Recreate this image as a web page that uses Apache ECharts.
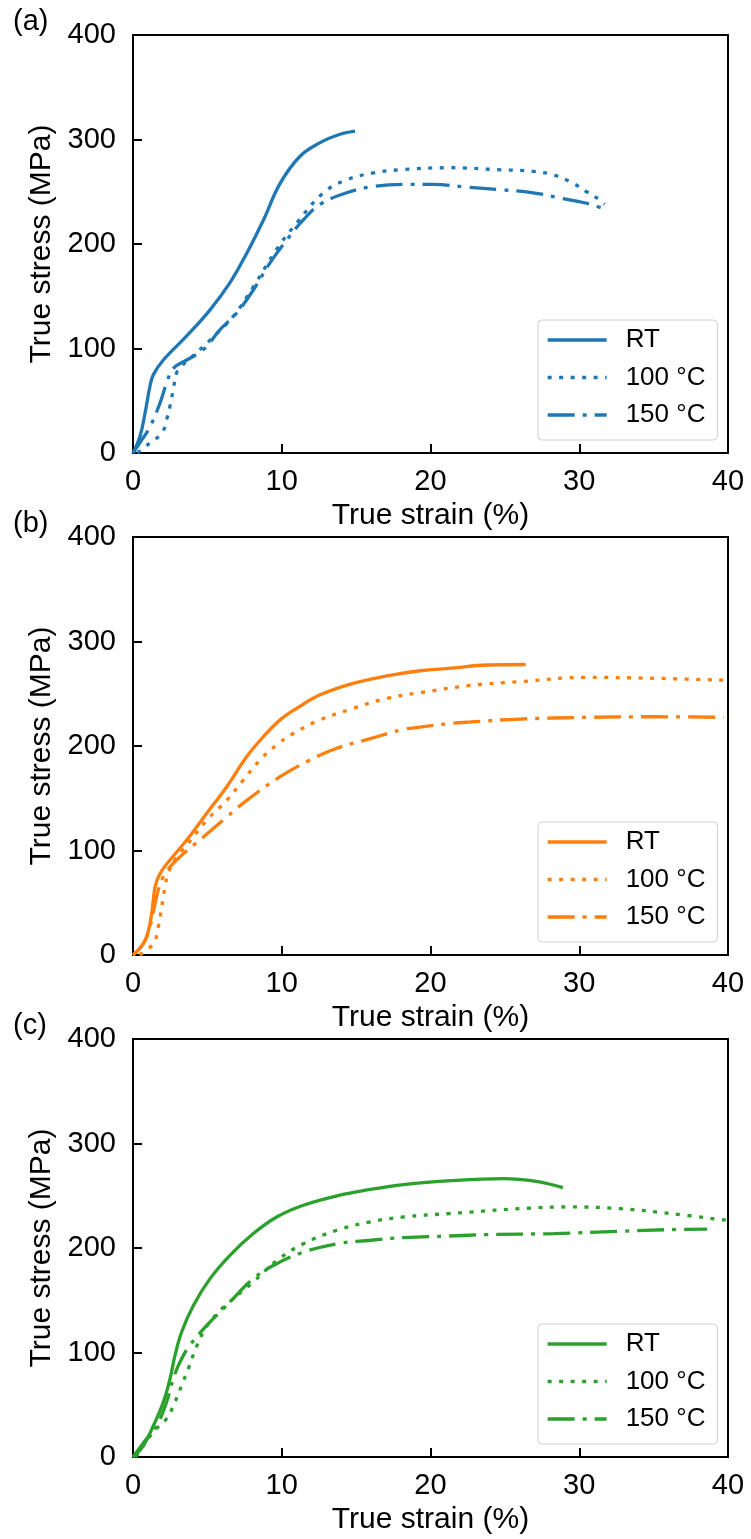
<!DOCTYPE html>
<html>
<head>
<meta charset="utf-8">
<script src="https://cdn.jsdelivr.net/npm/echarts@6/dist/echarts.min.js"></script>
<style>
  html, body { margin: 0; padding: 0; background: #fff; }
  #chart { width: 751px; height: 1539px; }
</style>
</head>
<body>
<div id="chart"></div>
<script>
// Axis ticks and labels
const strainTicks = [0, 10, 20, 30, 40];
const stressTicks = [0, 100, 200, 300, 400];
const panelLabels = ['(a)', '(b)', '(c)'];
const seriesLabels = ['RT', '100 °C', '150 °C'];
const panelColors = ['#1f77b4', '#ff7f0e', '#2ca02c'];

// Panel (a): true strain (%) / true stress (MPa)
const aRtStrain = [0, 0.47, 0.81, 1.14, 1.37, 2.04, 3.61, 5.18, 6.52, 7.64, 8.77, 9.89, 11.23, 12.58, 13.92, 14.93];
const aRtStress = [0, 16, 38, 64, 75, 89, 112, 137, 163, 191, 223, 258, 284, 297, 305, 308];
const a100Strain = [0.3, 0.81, 1.93, 2.26, 2.49, 2.71, 2.94, 3.27, 3.95, 5.18, 6.75, 8.09, 9.66, 11.0, 12.8, 14.37, 16.16, 17.96, 21.3, 24.7, 26.9, 28.3, 29.6, 30.5, 31.4, 31.7];
const a100Stress = [0, 6, 19, 32, 45, 61, 77, 83, 92, 108, 131, 159, 195, 220, 249, 261.5, 268, 271, 273, 271, 269.5, 266, 258, 250, 242, 238];
const a150Strain = [0, 0.47, 1.14, 1.82, 2.26, 2.71, 3.61, 4.73, 5.85, 6.97, 8.09, 9.21, 10.34, 11.45, 12.58, 14.37, 16.16, 18.2, 20.2, 22.4, 24.7, 26.9, 28.7, 30.5, 31.6];
const a150Stress = [0, 10, 25, 48, 67, 81, 89, 99, 118, 134, 156, 182, 204, 223, 238, 249, 255, 257, 257, 254.5, 252, 249, 244, 239, 234];

// Panel (b)
const bRtStrain = [0, 0.47, 0.92, 1.26, 1.48, 1.82, 2.49, 3.61, 4.96, 6.3, 7.65, 8.77, 9.89, 11.0, 12.58, 14.8, 17.06, 19.3, 21.4, 23.8, 26.4];
const bRtStress = [0, 6.4, 17.5, 40, 65, 78, 91, 110, 135.6, 161, 190, 209, 225, 236, 249, 260, 267, 272, 274.5, 277.5, 278];
const b100Strain = [0.45, 1.37, 1.7, 1.93, 2.15, 2.37, 2.82, 3.61, 4.96, 6.3, 7.42, 8.54, 9.66, 10.78, 12.58, 14.8, 17.06, 19.3, 22.7, 26.0, 30.5, 35, 39.7];
const b100Stress = [0, 11, 27, 46, 65, 78, 91, 105, 129, 148, 167.5, 186.6, 201, 212, 225, 236, 245.6, 251, 258, 261.5, 265.7, 264.8, 263];
const b150Strain = [0, 0.7, 1.14, 1.59, 2.04, 2.94, 4.73, 6.3, 7.65, 9.89, 11.68, 13.7, 15.94, 18.2, 19.3, 21.3, 22.7, 26.0, 30.5, 35, 39.7];
const b150Stress = [0, 11, 27, 56, 75, 91, 113, 132, 148, 170.6, 185, 197.8, 207, 216, 218, 221.5, 223, 225.8, 227.4, 228, 227.4];

// Panel (c)
const cRtStrain = [0, 0.7, 1.37, 2.04, 2.49, 2.82, 3.27, 4.06, 5.18, 6.52, 8.09, 9.66, 11.45, 13.7, 15.96, 18.18, 21.4, 24.9, 27.1, 28.9];
const cRtStress = [0, 11, 30, 52.6, 75, 97, 119.6, 145, 170.7, 193, 213.8, 229.7, 240.9, 249.8, 256, 260.7, 264.5, 266.4, 263.8, 257.8];
const c100Strain = [0.2, 1.37, 2.26, 2.82, 3.27, 3.72, 4.17, 4.73, 5.63, 6.75, 8.09, 9.66, 11.45, 13.7, 15.96, 18.18, 21.3, 22.7, 26.0, 29.4, 32.75, 36.1, 39.9];
const c100Stress = [0, 24, 36.7, 52.6, 68.6, 84.6, 102, 119.6, 137, 151.6, 167.5, 188, 204, 217, 225, 229.7, 233, 234.4, 237.7, 239.3, 237.7, 233, 226.5];
const c150Strain = [0, 0.92, 1.59, 2.26, 2.71, 3.16, 3.83, 4.96, 6.3, 8.09, 9.66, 11.45, 13.7, 15.96, 18.18, 21.3, 23.8, 28.3, 32.75, 36.1, 38.6];
const c150Stress = [0, 17.6, 30, 52.6, 75, 91, 107, 126, 145, 170.7, 185, 196, 204, 207.4, 210, 211.5, 212.8, 213.8, 216, 217.6, 218];

const panels = [
  [[aRtStrain, aRtStress], [a100Strain, a100Stress], [a150Strain, a150Stress]],
  [[bRtStrain, bRtStress], [b100Strain, b100Stress], [b150Strain, b150Stress]],
  [[cRtStrain, cRtStress], [c100Strain, c100Stress], [c150Strain, c150Stress]]
];

const FONT = "'Liberation Sans', Arial, sans-serif";
const lineWidth = 3.3;
const dashes = ['solid', [4, 7.5], [27, 8, 4, 8]];
const gridTops = [35, 537, 1039];
const gridLeft = 133, gridWidth = 595, gridHeight = 418;

const key = (i, label) => i + '|' + label;
const zip = (xs, ys) => xs.map((x, k) => [x, ys[k]]);

const option = {
  animation: false,
  backgroundColor: '#fff',
  textStyle: { fontFamily: FONT },
  title: panelLabels.map((t, i) => ({
    text: t,
    left: 13,
    top: gridTops[i] - 28,
    padding: 0,
    textStyle: { fontSize: 29, fontWeight: 'normal', color: '#000', fontFamily: FONT }
  })),
  grid: gridTops.map(top => ({
    left: gridLeft, top: top, width: gridWidth, height: gridHeight,
    show: true, borderColor: '#000', borderWidth: 2, backgroundColor: 'transparent',
    containLabel: false
  })),
  xAxis: gridTops.map((_, i) => ({
    gridIndex: i, type: 'value',
    min: strainTicks[0], max: strainTicks[strainTicks.length - 1], interval: strainTicks[1] - strainTicks[0],
    name: 'True strain (%)', nameLocation: 'middle', nameGap: 48,
    nameTextStyle: { fontSize: 30, color: '#000', fontFamily: FONT },
    axisLine: { show: true, onZero: false, lineStyle: { color: '#000', width: 2 } },
    axisTick: { show: true, inside: true, length: 9, lineStyle: { color: '#000', width: 2 } },
    axisLabel: { fontSize: 29, color: '#000', margin: 14, fontFamily: FONT },
    splitLine: { show: false }
  })),
  yAxis: gridTops.map((_, i) => ({
    gridIndex: i, type: 'value',
    min: stressTicks[0], max: stressTicks[stressTicks.length - 1], interval: stressTicks[1] - stressTicks[0],
    name: 'True stress (MPa)', nameLocation: 'middle', nameGap: 64,
    nameTextStyle: { fontSize: 30, color: '#000', fontFamily: FONT },
    axisLine: { show: true, onZero: false, lineStyle: { color: '#000', width: 2 } },
    axisTick: { show: true, inside: true, length: 9, lineStyle: { color: '#000', width: 2 } },
    axisLabel: { fontSize: 29, color: '#000', margin: 17, fontFamily: FONT },
    splitLine: { show: false }
  })),
  legend: gridTops.map((top, i) => ({
    orient: 'vertical',
    left: 538,
    top: top + 285,
    padding: [7, 12, 12, 8],
    itemWidth: 59, itemHeight: 26, itemGap: 11.5,
    backgroundColor: 'rgba(255,255,255,0.8)',
    borderColor: '#d0d0d0', borderWidth: 1, borderRadius: 4,
    selectedMode: false,
    formatter: name => name.split('|')[1],
    textStyle: { fontSize: 26, color: '#000', fontFamily: FONT, padding: [0, 0, 0, 14] },
    itemStyle: { opacity: 0 },
    data: seriesLabels.map((l, k) => ({
      name: key(i, l),
      itemStyle: { opacity: 0 },
      lineStyle: { type: dashes[k], width: lineWidth, color: panelColors[i] }
    }))
  })),
  series: []
};

panels.forEach((panel, i) => {
  panel.forEach(([xs, ys], k) => {
    option.series.push({
      name: key(i, seriesLabels[k]),
      type: 'line',
      xAxisIndex: i, yAxisIndex: i,
      data: zip(xs, ys),
      symbol: 'none',
      smooth: 0.4,
      clip: true,
      color: panelColors[i],
      lineStyle: { color: panelColors[i], width: lineWidth, type: dashes[k] }
    });
  });
});

const chart = echarts.init(document.getElementById('chart'), null, { renderer: 'canvas' });
chart.setOption(option);
</script>
</body>
</html>
